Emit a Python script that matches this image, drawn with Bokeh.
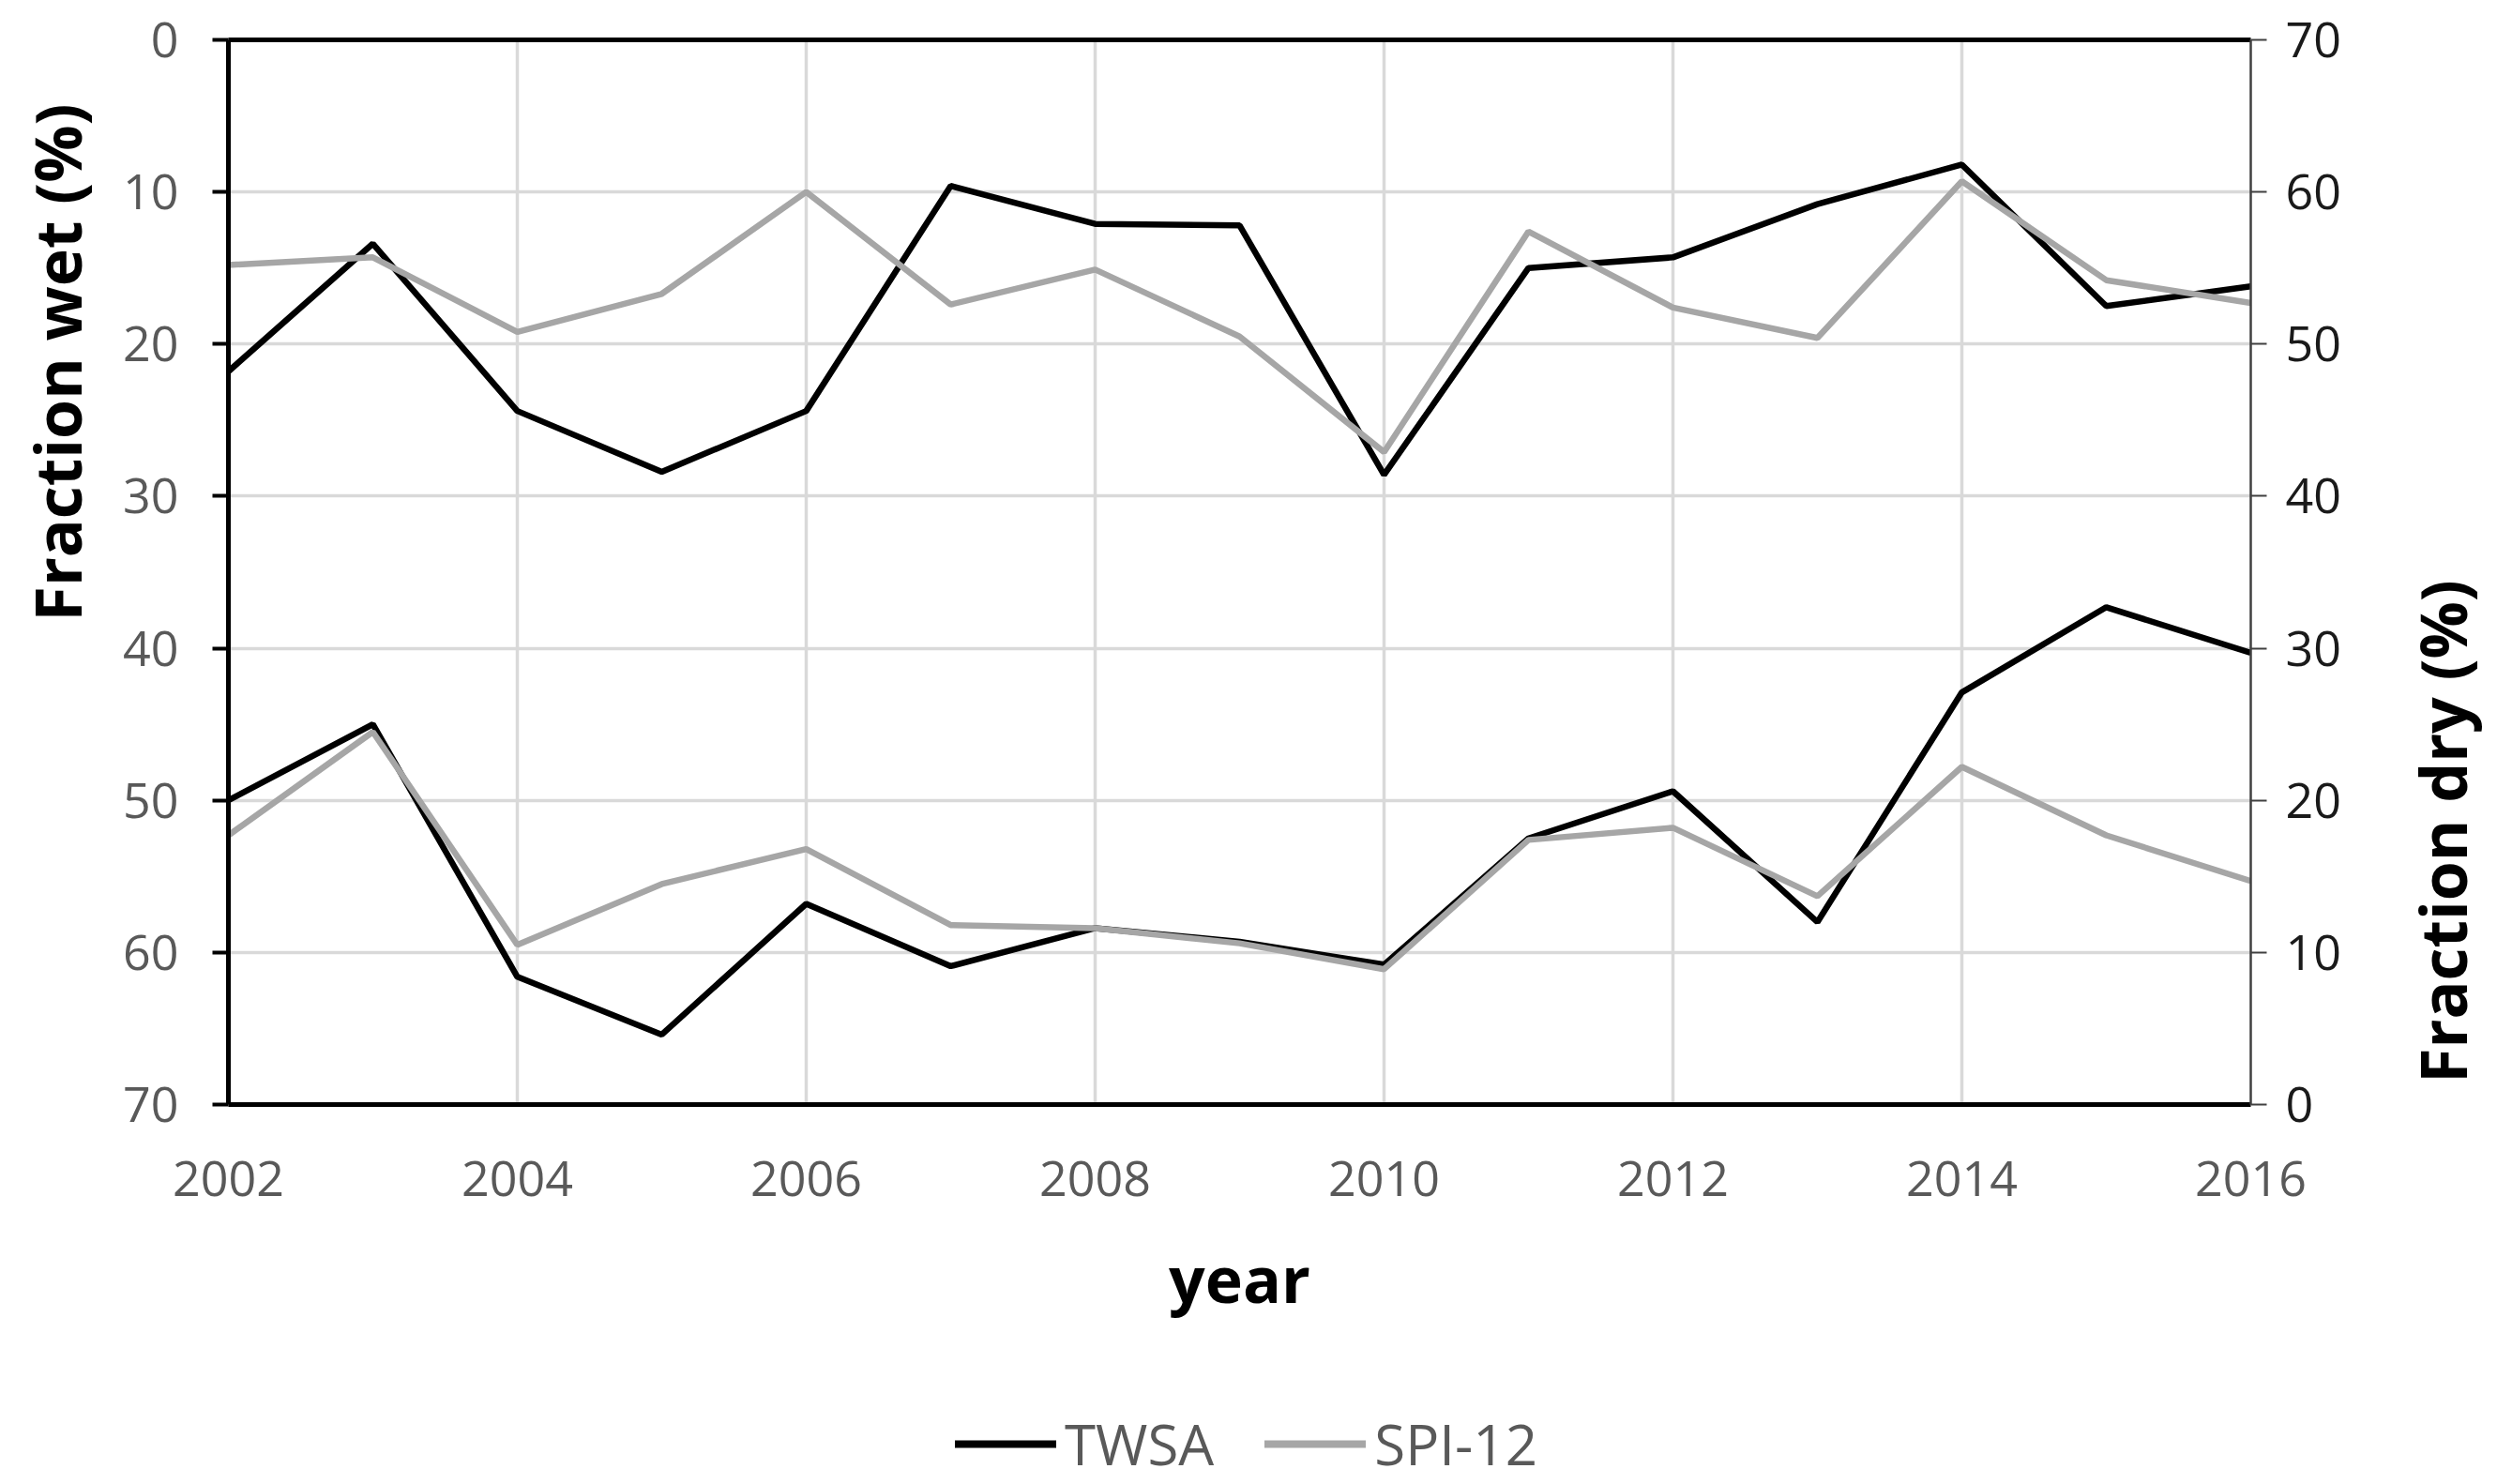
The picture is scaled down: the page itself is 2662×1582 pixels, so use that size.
import math
from bokeh.plotting import figure
from bokeh.layouts import row, column
from bokeh.models import Range1d, LinearAxis, FixedTicker, Legend, LegendItem, Label
from bokeh.embed import file_html
from bokeh.resources import INLINE

years = list(range(2002, 2017))
twsa_wet = [21.8, 13.4, 24.4, 28.4, 24.4, 9.6, 12.1, 12.2, 28.6, 15.0, 14.3, 10.8, 8.2, 17.5, 16.2]
spi_wet = [14.8, 14.3, 19.2, 16.7, 10.0, 17.4, 15.1, 19.5, 27.1, 12.6, 17.6, 19.6, 9.3, 15.8, 17.3]
twsa_dry = [20.0, 25.0, 8.4, 4.6, 13.2, 9.1, 11.6, 10.7, 9.2, 17.5, 20.6, 12.0, 27.1, 32.7, 29.7]
spi_dry = [17.7, 24.5, 10.5, 14.5, 16.8, 11.8, 11.6, 10.6, 8.9, 17.4, 18.2, 13.7, 22.2, 17.7, 14.7]
x_ticks = [2002, 2004, 2006, 2008, 2010, 2012, 2014, 2016]
y_ticks = [0, 10, 20, 30, 40, 50, 60, 70]

FONT = "Open Sans"
TICK_COLOR = "#595959"
BLACK = "#000000"
GRAY = "#A6A6A6"

# overall page 2662 x 1582 split into strips
LEFT_W, RIGHT_W, LEG_H = 120, 142, 120
MAIN_W = 2662 - LEFT_W - RIGHT_W
MAIN_H = 1582 - LEG_H


def strip(w, h, xr=(0, 1)):
    f = figure(width=w, height=h, x_range=Range1d(*xr), y_range=Range1d(0, 1),
               output_backend="svg", toolbar_location=None,
               x_axis_location=None, y_axis_location=None,
               min_border=0, outline_line_color=None)
    f.grid.visible = False
    f.background_fill_color = "white"
    f.border_fill_color = "white"
    return f


p = figure(width=MAIN_W, height=MAIN_H,
           x_range=Range1d(2002, 2016), y_range=Range1d(70, 0),
           output_backend="svg", toolbar_location=None,
           min_border_left=123, min_border_right=121,
           min_border_top=42, min_border_bottom=285)
p.outline_line_color = None
p.background_fill_color = "white"
p.border_fill_color = "white"
p.extra_y_ranges = {"dry": Range1d(0, 70)}

# grids
p.xgrid.ticker = FixedTicker(ticks=x_ticks)
p.ygrid.ticker = FixedTicker(ticks=y_ticks)
p.xgrid.grid_line_color = "#D9D9D9"
p.ygrid.grid_line_color = "#D9D9D9"
p.xgrid.grid_line_width = 3.5
p.ygrid.grid_line_width = 3.5

# bottom x axis
xa = p.xaxis[0]
xa.ticker = FixedTicker(ticks=x_ticks)
xa.axis_label = "year"
xa.axis_label_text_font = FONT
xa.axis_label_text_font_style = "bold"
xa.axis_label_text_font_size = "68px"
xa.axis_label_text_color = BLACK
xa.axis_label_standoff = 38
xa.major_label_text_font = FONT
xa.major_label_text_font_size = "52px"
xa.major_label_text_color = TICK_COLOR
xa.major_label_standoff = 60
xa.major_tick_out = 0
xa.major_tick_in = 0
xa.minor_tick_line_color = None
xa.axis_line_color = BLACK
xa.axis_line_width = 5

# top border as an empty axis
top = LinearAxis(ticker=FixedTicker(ticks=[]), axis_line_color=BLACK, axis_line_width=5,
                 major_tick_line_color=None, minor_tick_line_color=None,
                 major_label_text_font_size="0px")
p.add_layout(top, "above")

# left axis (wet, inverted)
ya = p.yaxis[0]
ya.ticker = FixedTicker(ticks=y_ticks)
ya.major_label_text_font = FONT
ya.major_label_text_font_size = "52px"
ya.major_label_text_color = TICK_COLOR
ya.major_label_standoff = 36
ya.major_tick_out = 17
ya.major_tick_in = 0
ya.major_tick_line_width = 4
ya.major_tick_line_color = BLACK
ya.minor_tick_line_color = None
ya.axis_line_color = BLACK
ya.axis_line_width = 5

# right axis (dry)
ra = LinearAxis(y_range_name="dry", ticker=FixedTicker(ticks=y_ticks))
ra.major_label_text_font = FONT
ra.major_label_text_font_size = "52px"
ra.major_label_text_color = "#1A1A1A"
ra.major_label_standoff = 20
ra.major_tick_out = 17
ra.major_tick_in = 0
ra.major_tick_line_width = 2
ra.major_tick_line_color = "#404040"
ra.minor_tick_line_color = None
ra.axis_line_color = "#404040"
ra.axis_line_width = 2.5
p.add_layout(ra, "right")

# lines
p.line(years, twsa_wet, line_color=BLACK, line_width=6.5)
p.line(years, twsa_dry, line_color=BLACK, line_width=6.5, y_range_name="dry")
p.line(years, spi_wet, line_color=GRAY, line_width=6.5)
p.line(years, spi_dry, line_color=GRAY, line_width=6.5, y_range_name="dry")

# left title strip (text runs upwards from its anchor)
left = strip(LEFT_W, MAIN_H)
left.add_layout(Label(x=60, y=MAIN_H - 671, x_units="screen", y_units="screen",
                      text="Fraction wet (%)", angle=math.pi / 2,
                      text_font=FONT, text_font_style="bold", text_font_size="68px",
                      text_color=BLACK, text_align="center", text_baseline="middle"))

# right title strip
right = strip(RIGHT_W, MAIN_H)
right.add_layout(Label(x=83, y=MAIN_H - 1171, x_units="screen", y_units="screen",
                       text="Fraction dry (%)", angle=math.pi / 2,
                       text_font=FONT, text_font_style="bold", text_font_size="68px",
                       text_color=BLACK, text_align="center", text_baseline="middle"))

# legend strip: series drawn outside its visible range, used only as legend swatches
leg = strip(2662, LEG_H, xr=(0, 1))
lg_tw = leg.line(years, twsa_wet, line_color=BLACK, line_width=8, line_cap="round")
lg_sp = leg.line(years, spi_wet, line_color=GRAY, line_width=8, line_cap="round")
legend = Legend(items=[LegendItem(label="TWSA", renderers=[lg_tw]),
                       LegendItem(label="SPI-12", renderers=[lg_sp])],
                orientation="horizontal", location=(1018, 2),
                label_text_font=FONT, label_text_font_size="60px",
                label_text_color=TICK_COLOR,
                glyph_width=108, glyph_height=40, spacing=54,
                label_standoff=9, padding=0, margin=0,
                border_line_color=None, background_fill_alpha=0)
leg.add_layout(legend, "center")

layout = column(row(left, p, right), leg)
open("out.html", "w").write(file_html(layout, INLINE))
